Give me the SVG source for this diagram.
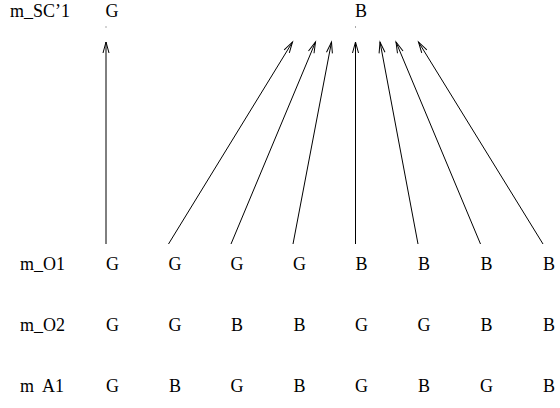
<svg xmlns="http://www.w3.org/2000/svg" width="560" height="408" viewBox="0 0 560 408">
<style>
text{font-family:'Liberation Serif','Times New Roman',serif;font-size:18px;fill:#000}
.v{text-anchor:middle}
.e{stroke:#000;stroke-width:1;fill:none}
.dot{fill:#555}
</style>
<defs>
<marker id="ah" markerUnits="userSpaceOnUse" markerWidth="14" markerHeight="10" viewBox="-12 -5 14 10" refX="0" refY="0" orient="auto">
<path d="M-11,-3 L0,0 L-11,3" fill="none" stroke="#000" stroke-width="1"/>
</marker>
</defs>
<rect width="560" height="408" fill="#fff"/>
<g id="labels">
<g id="lbl-sc"><text x="10" y="17">m_SC’1</text></g>
<g id="lbl-o1"><text x="20" y="270">m_O1</text></g>
<g id="lbl-o2"><text x="20" y="331">m_O2</text></g>
<g id="lbl-a1"><text x="20" y="392" xml:space="preserve">m  A1</text></g>
</g>
<g id="top">
<g id="sc-g"><text class="v" x="112" y="17">G</text><rect class="dot" x="105.5" y="26.5" width="1" height="1"/></g>
<g id="sc-b"><text class="v" x="361" y="17">B</text><rect class="dot" x="355" y="26.5" width="1" height="1"/></g>
</g>
<g id="row-o1">
<g id="o1-1"><text class="v" x="112.5" y="270">G</text></g>
<g id="o1-2"><text class="v" x="175" y="270">G</text></g>
<g id="o1-3"><text class="v" x="237" y="270">G</text></g>
<g id="o1-4"><text class="v" x="299.5" y="270">G</text></g>
<g id="o1-5"><text class="v" x="361.5" y="270">B</text></g>
<g id="o1-6"><text class="v" x="424" y="270">B</text></g>
<g id="o1-7"><text class="v" x="486.5" y="270">B</text></g>
<g id="o1-8"><text class="v" x="549" y="270">B</text></g>
</g>
<g id="row-o2">
<g id="o2-1"><text class="v" x="112.5" y="331">G</text></g>
<g id="o2-2"><text class="v" x="175" y="331">G</text></g>
<g id="o2-3"><text class="v" x="237" y="331">B</text></g>
<g id="o2-4"><text class="v" x="299.5" y="331">B</text></g>
<g id="o2-5"><text class="v" x="361.5" y="331">G</text></g>
<g id="o2-6"><text class="v" x="424" y="331">G</text></g>
<g id="o2-7"><text class="v" x="486.5" y="331">B</text></g>
<g id="o2-8"><text class="v" x="549" y="331">B</text></g>
</g>
<g id="row-a1">
<g id="a1-1"><text class="v" x="112.5" y="392">G</text></g>
<g id="a1-2"><text class="v" x="175" y="392">B</text></g>
<g id="a1-3"><text class="v" x="237" y="392">G</text></g>
<g id="a1-4"><text class="v" x="299.5" y="392">B</text></g>
<g id="a1-5"><text class="v" x="361.5" y="392">G</text></g>
<g id="a1-6"><text class="v" x="424" y="392">B</text></g>
<g id="a1-7"><text class="v" x="486.5" y="392">G</text></g>
<g id="a1-8"><text class="v" x="549" y="392">B</text></g>
</g>
<g id="connectors" class="e">
<line x1="106" y1="244" x2="106" y2="42" marker-end="url(#ah)"/>
<line x1="168.5" y1="244" x2="292.5" y2="42" marker-end="url(#ah)"/>
<line x1="231" y1="244" x2="315.5" y2="42" marker-end="url(#ah)"/>
<line x1="293" y1="244" x2="331.5" y2="42" marker-end="url(#ah)"/>
<line x1="355.5" y1="244" x2="355.5" y2="42" marker-end="url(#ah)"/>
<line x1="418" y1="244" x2="380" y2="42" marker-end="url(#ah)"/>
<line x1="480.5" y1="244" x2="396" y2="42" marker-end="url(#ah)"/>
<line x1="543" y1="244" x2="418.5" y2="42" marker-end="url(#ah)"/>
</g>
</svg>
